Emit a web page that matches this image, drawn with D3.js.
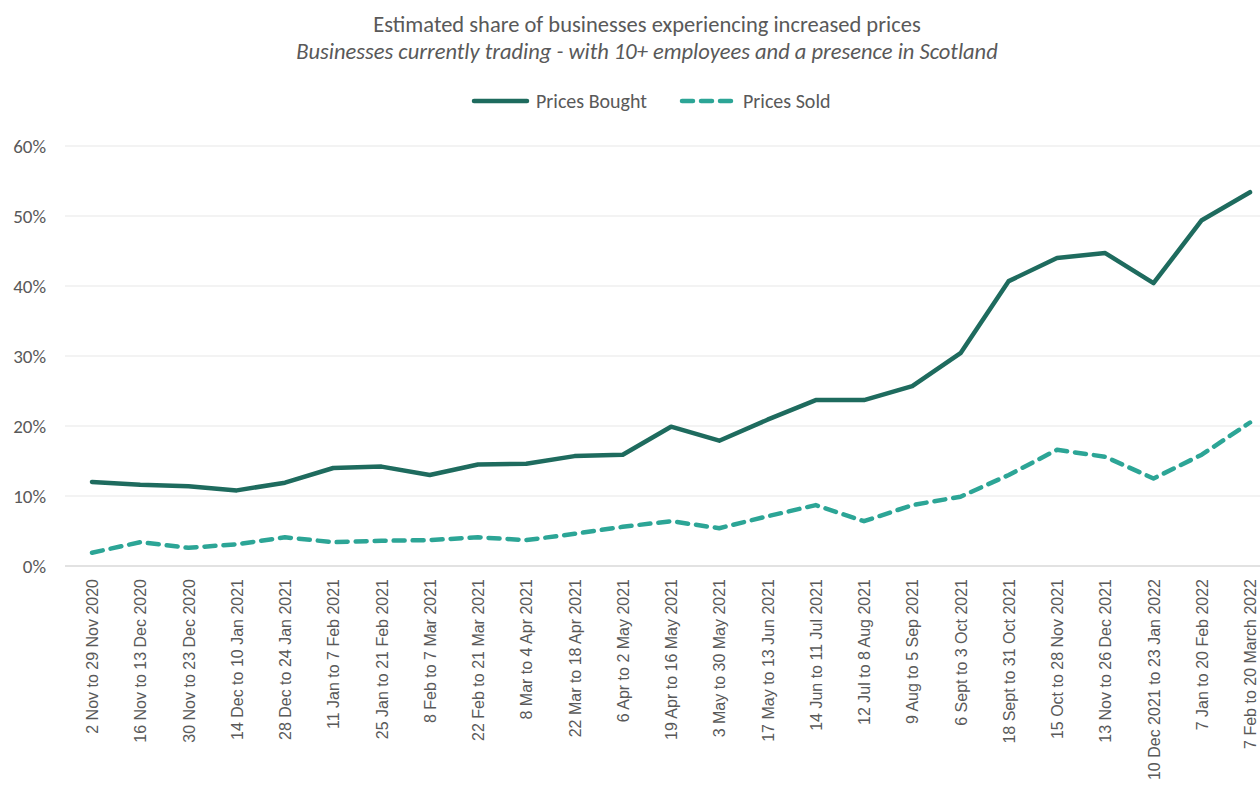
<!DOCTYPE html>
<html><head><meta charset="utf-8">
<script src="https://cdn.jsdelivr.net/npm/d3@7"></script>
<style>body{margin:0;background:#fff;overflow:hidden}</style>
</head><body><svg id="c" width="1260" height="803"></svg>
<script>
const categories = ["2 Nov to 29 Nov 2020","16 Nov to 13 Dec 2020","30 Nov to 23 Dec 2020","14 Dec to 10 Jan 2021","28 Dec to 24 Jan 2021","11 Jan to 7 Feb 2021","25 Jan to 21 Feb 2021","8 Feb to 7 Mar 2021","22 Feb to 21 Mar 2021","8 Mar to 4 Apr 2021","22 Mar to 18 Apr 2021","6 Apr to 2 May 2021","19 Apr to 16 May 2021","3 May to 30 May 2021","17 May to 13 Jun 2021","14 Jun to 11 Jul 2021","12 Jul to 8 Aug 2021","9 Aug to 5 Sep 2021","6 Sept to 3 Oct 2021","18 Sept to 31 Oct 2021","15 Oct to 28 Nov 2021","13 Nov to 26 Dec 2021","10 Dec 2021 to 23 Jan 2022","7 Jan to 20 Feb 2022","7 Feb to 20 March 2022"];
const pricesBought = [12.0,11.6,11.4,10.8,11.9,14.0,14.2,13.0,14.5,14.6,15.7,15.9,19.9,17.9,20.9,23.7,23.7,25.7,30.4,40.7,44.0,44.7,40.4,49.4,53.4];
const pricesSold = [1.9,3.4,2.6,3.1,4.1,3.4,3.6,3.7,4.1,3.7,4.6,5.6,6.4,5.4,7.1,8.7,6.4,8.7,9.9,13.0,16.6,15.6,12.5,15.9,20.5];
const yTicks = [0,10,20,30,40,50,60];
const title = "Estimated share of businesses experiencing increased prices";
const subtitle = "Businesses currently trading - with 10+ employees and a presence in Scotland";

const svg = d3.select("#c");
const font = "Carlito, Calibri, Lato, 'Open Sans', sans-serif";
const cBought = "#1e6b5e", cSold = "#2ca596", textC = "#595959";

const x = d3.scalePoint().domain(categories).range([92, 1250]);
const y = d3.scaleLinear().domain([0, 60]).range([566, 146]);

// grid
svg.append("g").selectAll("line").data(yTicks.filter(d=>d>0)).join("line")
  .attr("x1", 65).attr("x2", 1260).attr("y1", d=>y(d)).attr("y2", d=>y(d))
  .attr("stroke", "#efefef").attr("stroke-width", 1.5);
svg.append("line").attr("x1",65).attr("x2",1260).attr("y1",y(0)).attr("y2",y(0))
  .attr("stroke","#d9d9d9").attr("stroke-width",1.5);

// y labels
svg.append("g").selectAll("text").data(yTicks).join("text")
  .attr("x", 46).attr("y", d=>y(d)+6.5).attr("text-anchor","end")
  .attr("font-family", font).attr("font-size", 19).attr("fill", textC)
  .text(d=>d+"%");

// x labels
svg.append("g").selectAll("text").data(categories).join("text")
  .attr("transform", d=>`translate(${x(d)+6},579) rotate(-90)`)
  .attr("text-anchor","end")
  .attr("font-family","'Liberation Sans', Arial, sans-serif").attr("font-size",16).attr("fill",textC)
  .text(d=>d);

// lines
const line = vals => d3.line().x((d,i)=>x(categories[i])).y(d=>y(d))(vals);
svg.append("path").attr("d", line(pricesSold)).attr("fill","none")
  .attr("stroke", cSold).attr("stroke-width",4.5).attr("stroke-dasharray","11,8").attr("stroke-linecap","round").attr("stroke-linejoin","round");
svg.append("path").attr("d", line(pricesBought)).attr("fill","none")
  .attr("stroke", cBought).attr("stroke-width",4.5).attr("stroke-linecap","round").attr("stroke-linejoin","round");

// titles
svg.append("text").attr("x",647).attr("y",32).attr("text-anchor","middle")
  .attr("font-family",font).attr("font-size",22.5).attr("fill",textC).text(title);
svg.append("text").attr("x",647).attr("y",59).attr("text-anchor","middle")
  .attr("font-family",font).attr("font-size",22.5).attr("font-style","italic").attr("fill",textC).text(subtitle);

// legend
const lg = svg.append("g");
lg.append("line").attr("x1",474).attr("x2",527).attr("y1",101).attr("y2",101)
  .attr("stroke",cBought).attr("stroke-width",4.5).attr("stroke-linecap","round");
lg.append("text").attr("x",536).attr("y",108).attr("font-family",font).attr("font-size",20).attr("fill",textC).text("Prices Bought");
lg.append("line").attr("x1",682).attr("x2",734).attr("y1",101).attr("y2",101)
  .attr("stroke",cSold).attr("stroke-width",4.5).attr("stroke-dasharray","11,8").attr("stroke-linecap","round");
lg.append("text").attr("x",743).attr("y",108).attr("font-family",font).attr("font-size",20).attr("fill",textC).text("Prices Sold");
</script></body></html>
